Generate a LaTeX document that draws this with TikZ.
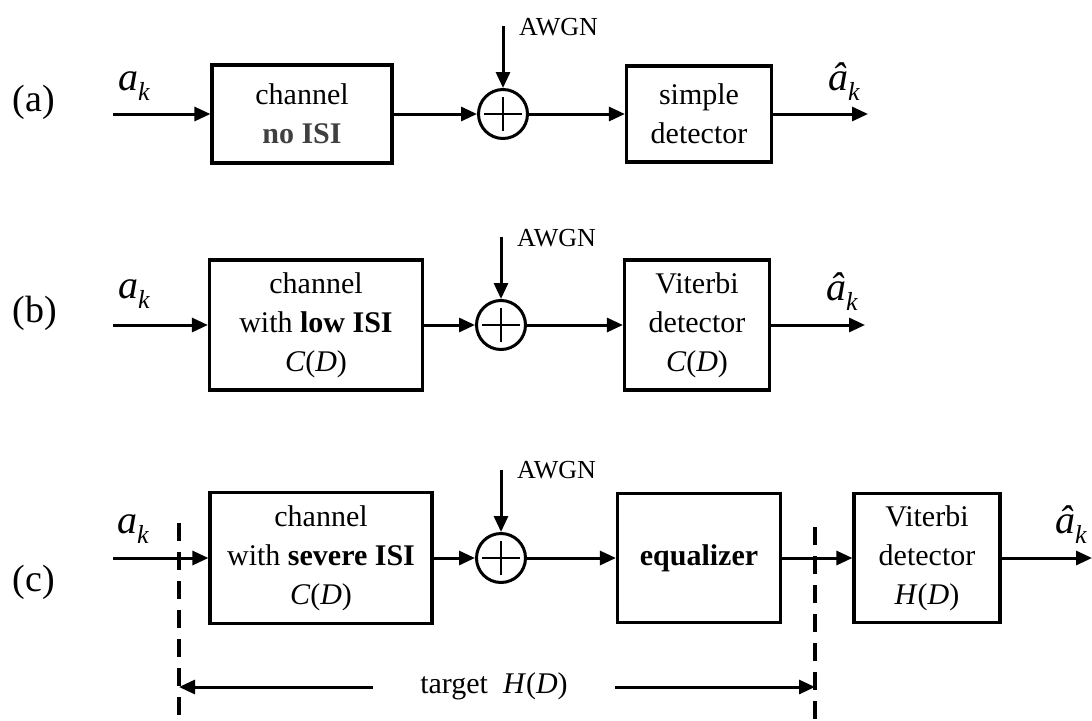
\documentclass[tikz,border=0pt]{standalone}
\usepackage{fontspec}
\setmainfont{Liberation Serif}
\usetikzlibrary{arrows.meta}
\newcommand{\symak}{\textit{a}\raisebox{-10pt}{\fontsize{26}{26}\selectfont\textit{k}}}
\newcommand{\symhatak}{\textit{â}\raisebox{-10pt}{\fontsize{26}{26}\selectfont\textit{k}}}
\newcommand{\symfn}[1]{\textit{#1}(\textit{D})}
\begin{document}
\begin{tikzpicture}[x=1pt,y=-1pt,
  block/.style={draw,line width=3.2pt,inner sep=0pt,align=center,font=\fontsize{30}{39}\selectfont},
  adder/.style={draw,circle,line width=3pt,minimum size=49pt,inner sep=0pt,
    path picture={\draw[line width=2.8pt] (path picture bounding box.center) ++(-19,0) -- ++(38,0);
      \draw[line width=2.8pt] (path picture bounding box.center) ++(0,-17) -- ++(0,34);}},
  sig/.style={line width=3pt,-{Triangle[length=16pt,width=14pt]}},
  dashline/.style={line width=3.2pt,dash pattern=on 18pt off 11pt},
  lbl/.style={font=\fontsize{38}{38}\selectfont,anchor=base,inner sep=0pt},
  sym/.style={font=\fontsize{40}{40}\selectfont,anchor=base west,inner sep=0pt},
  noise/.style={font=\fontsize{26}{26}\selectfont,anchor=base west,inner sep=0pt}]
\useasboundingbox (0,0) rectangle (1092,720);

% (a)
\node[lbl] (labA) at (34,111) {(a)};
\node[sym] (inSymA) at (118,90) {\symak};
\coordinate (inA) at (113,114);
\node[block,minimum width=180pt,minimum height=98pt] (chanA) at (302,114) {channel\\{\bfseries\color{black!75}no ISI}};
\node[adder] (sumA) at (503,114) {};
\coordinate (noiseA) at (503,26);
\node[noise] (awgnA) at (519,35) {AWGN};
\node[block,minimum width=145pt,minimum height=96pt] (detA) at (699,114) {simple\\detector};
\coordinate (outA) at (868,114);
\node[sym] (outSymA) at (828,90) {\symhatak};
\draw[sig] (inA) -- (chanA);
\draw[sig] (chanA) -- (sumA);
\draw[sig] (noiseA) -- (sumA);
\draw[sig] (sumA) -- (detA);
\draw[sig] (detA) -- (outA);

% (b)
\node[lbl] (labB) at (35,322) {(b)};
\node[sym] (inSymB) at (118,298) {\symak};
\coordinate (inB) at (113,325);
\node[block,minimum width=213pt,minimum height=130pt] (chanB) at (316,325) {channel\\with \textbf{low ISI}\\\symfn{C}};
\node[adder] (sumB) at (501,325) {};
\coordinate (noiseB) at (501,237);
\node[noise] (awgnB) at (517,246) {AWGN};
\node[block,minimum width=145pt,minimum height=130pt] (vitB) at (697,325) {Viterbi\\detector\\\symfn{C}};
\coordinate (outB) at (865,325);
\node[sym] (outSymB) at (826,300) {\symhatak};
\draw[sig] (inB) -- (chanB);
\draw[sig] (chanB) -- (sumB);
\draw[sig] (noiseB) -- (sumB);
\draw[sig] (sumB) -- (vitB);
\draw[sig] (vitB) -- (outB);

% (c)
\node[lbl] (labC) at (34,591) {(c)};
\node[sym] (inSymC) at (117,533) {\symak};
\coordinate (inC) at (113,558);
\node[block,minimum width=222pt,minimum height=131pt] (chanC) at (321,558) {channel\\with \textbf{severe ISI}\\\symfn{C}};
\node[adder] (sumC) at (501,558) {};
\coordinate (noiseC) at (501,470);
\node[noise] (awgnC) at (517,478) {AWGN};
\node[block,minimum width=163pt,minimum height=129pt] (eq) at (699,558) {\textbf{equalizer}};
\node[block,minimum width=146pt,minimum height=129pt] (vitC) at (927,558) {Viterbi\\detector\\\symfn{H}};
\coordinate (outC) at (1092,558);
\node[sym] (outSymC) at (1055,533) {\symhatak};

\coordinate (dLtop) at (179,523);
\coordinate (dLbot) at (179,720);
\coordinate (dRtop) at (815,527);
\coordinate (dRbot) at (815,720);
\draw[dashline] (dLtop) -- (dLbot);
\draw[dashline] (dRtop) -- (dRbot);

\draw[sig] (inC) -- (chanC);
\draw[sig] (chanC) -- (sumC);
\draw[sig] (noiseC) -- (sumC);
\draw[sig] (sumC) -- (eq);
\draw[sig] (eq) -- (vitC);
\draw[sig] (vitC) -- (outC);

\node[font=\fontsize{30}{30}\selectfont,anchor=base,inner sep=0pt] (target) at (494,693) {target\ \ \symfn{H}};
\coordinate (tgtL) at (373,687);
\coordinate (tgtLend) at (179,687);
\coordinate (tgtR) at (615,687);
\coordinate (tgtRend) at (815,687);
\draw[sig] (tgtL) -- (tgtLend);
\draw[sig] (tgtR) -- (tgtRend);
\end{tikzpicture}
\end{document}
